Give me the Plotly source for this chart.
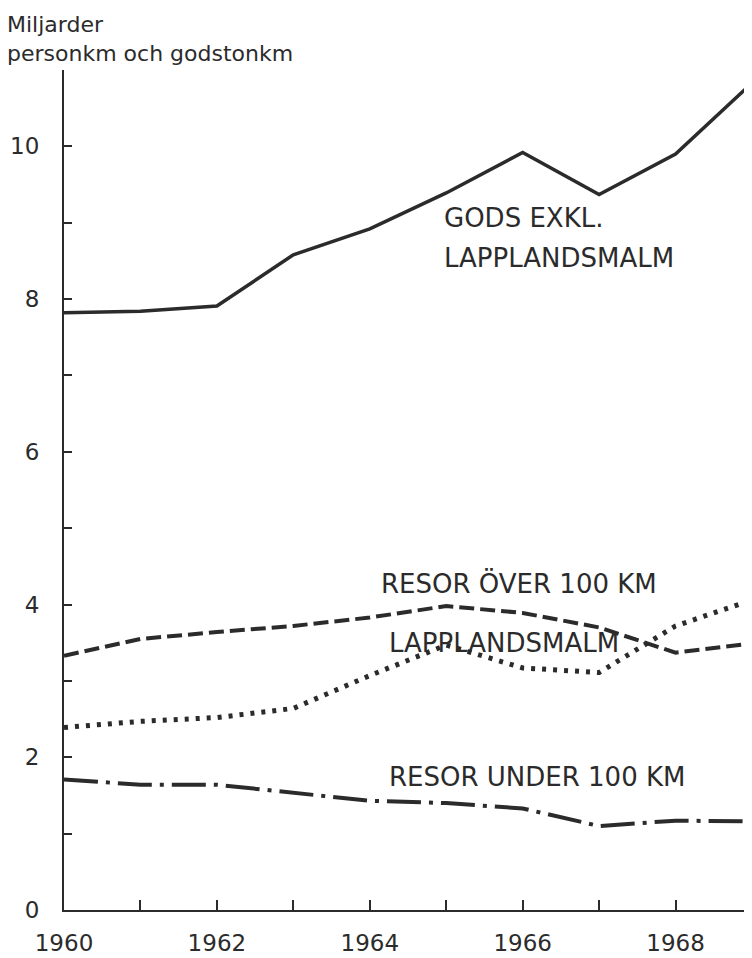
import plotly.graph_objects as go

years = [1960, 1961, 1962, 1963, 1964, 1965, 1966, 1967, 1968, 1969]
gods_exkl = [7.82, 7.84, 7.91, 8.58, 8.92, 9.39, 9.92, 9.37, 9.90, 10.83]
resor_over = [3.33, 3.55, 3.64, 3.72, 3.83, 3.98, 3.89, 3.70, 3.37, 3.49]
lapplandsmalm = [2.39, 2.47, 2.52, 2.64, 3.07, 3.47, 3.17, 3.11, 3.72, 4.06]
resor_under = [1.71, 1.64, 1.64, 1.53, 1.43, 1.40, 1.33, 1.10, 1.17, 1.16]

x_tick_vals = years
x_tick_text = ["1960", "", "1962", "", "1964", "", "1966", "", "1968", ""]
y_tick_vals = list(range(0, 12))
y_tick_text = ["0", "", "2", "", "4", "", "6", "", "8", "", "10", ""]

ink = "#2b2b2b"
font = "DejaVu Sans"

fig = go.Figure()
fig.add_trace(go.Scatter(x=years, y=gods_exkl, mode="lines",
                         line=dict(color=ink, width=3.5), cliponaxis=False))
fig.add_trace(go.Scatter(x=years, y=resor_over, mode="lines",
                         line=dict(color=ink, width=4, dash="15px,6px"), cliponaxis=False))
fig.add_trace(go.Scatter(x=years, y=lapplandsmalm, mode="lines",
                         line=dict(color=ink, width=5, dash="4px,7px"), cliponaxis=False))
fig.add_trace(go.Scatter(x=years, y=resor_under, mode="lines",
                         line=dict(color=ink, width=4, dash="34px,8px,4px,8px"), cliponaxis=False))

label_font = dict(family=font, size=26, color=ink)
labels = [
    ("GODS EXKL.", 1964.95, 9.06),
    ("LAPPLANDSMALM", 1964.95, 8.54),
    ("RESOR ÖVER 100 KM", 1964.12, 4.28),
    ("LAPPLANDSMALM", 1964.22, 3.50),
    ("RESOR UNDER 100 KM", 1964.22, 1.74),
]
for text, x, y in labels:
    fig.add_annotation(x=x, y=y, xref="x", yref="y", text=text, showarrow=False,
                       xanchor="left", yanchor="middle", font=label_font)

fig.add_annotation(x=-0.085, y=1.004, xref="paper", yref="paper",
                   text="Miljarder<br>personkm och godstonkm",
                   showarrow=False, xanchor="left", yanchor="bottom", align="left",
                   font=dict(family=font, size=22, color=ink), borderpad=0)

fig.update_layout(
    width=744, height=950,
    margin=dict(l=56, r=0, t=62, b=48),
    paper_bgcolor="white", plot_bgcolor="white",
    showlegend=False,
    font=dict(family=font, color=ink),
)
fig.update_xaxes(range=[1960, 1969.0], tickvals=x_tick_vals, ticktext=x_tick_text,
                 ticks="inside", ticklen=10, tickwidth=2, tickcolor=ink,
                 showline=True, linecolor=ink, linewidth=2, showgrid=False, zeroline=False,
                 tickfont=dict(family=font, size=23, color=ink), ticklabelstandoff=11)
fig.update_yaxes(range=[0, 11], tickvals=y_tick_vals, ticktext=y_tick_text,
                 ticks="inside", ticklen=8, tickwidth=2, tickcolor=ink,
                 showline=True, linecolor=ink, linewidth=2, showgrid=False, zeroline=False,
                 tickfont=dict(family=font, size=23, color=ink), ticklabelstandoff=18)

fig.write_html("out.html")
